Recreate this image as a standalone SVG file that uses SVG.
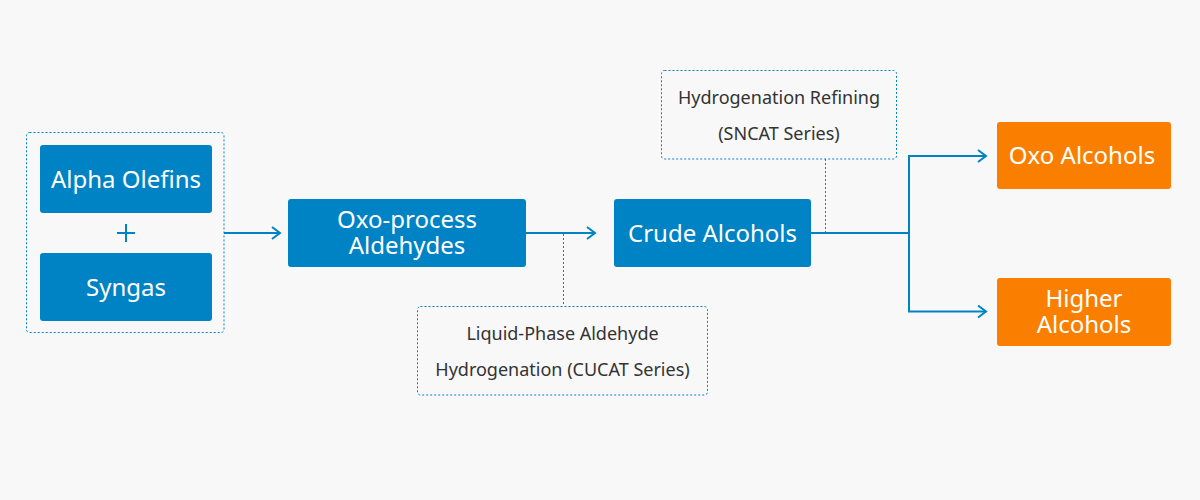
<svg xmlns="http://www.w3.org/2000/svg" width="1200" height="500" viewBox="0 0 1200 500">
<defs>
<marker id="arr" markerWidth="12" markerHeight="14" refX="10" refY="7" orient="auto" markerUnits="userSpaceOnUse">
<path d="M2,1 L10,7 L2,13" fill="none" stroke="#0083c4" stroke-width="2"/>
</marker>
</defs>
<style>
.blue{fill:#0083c4}
.orange{fill:#fa7f00}
.dot{fill:none;stroke:#0083c4;stroke-width:1;stroke-dasharray:2 2}
.wt{fill:#ffffff;font-family:"Noto Sans","Open Sans",sans-serif;font-size:24px;text-anchor:middle}
.gt{fill:#333333;font-family:"Noto Sans","Open Sans",sans-serif;font-size:18px;text-anchor:middle}
.line{fill:none;stroke:#0083c4;stroke-width:2}
.dline{fill:none;stroke:#0083c4;stroke-width:1;stroke-dasharray:2 2}
</style>
<rect width="1200" height="500" fill="#f8f8f8"/>
<g id="connectors">
<path class="line" d="M224,233 H280" marker-end="url(#arr)"/>
<path class="line" d="M526,233 H595" marker-end="url(#arr)"/>
<path class="dline" d="M563.5,234 V306"/>
<path class="dline" d="M825.5,159 V232"/>
<path class="line" d="M811,233 H909"/>
<path class="line" d="M909,155.5 V312"/>
<path class="line" d="M908,156 H986" marker-end="url(#arr)"/>
<path class="line" d="M908,311.5 H986" marker-end="url(#arr)"/>
</g>
<g id="feed-group">
<rect class="dot" x="26.5" y="132.5" width="197.5" height="200" rx="3"/>
</g>
<g id="alpha-olefins">
<rect class="blue" x="40" y="145" width="172" height="68" rx="3"/>
<text class="wt" x="126" y="188">Alpha Olefins</text>
</g>
<g id="plus">
<path d="M117,233 H135 M126,224 V242" stroke="#0083c4" stroke-width="2" fill="none"/>
</g>
<g id="syngas">
<rect class="blue" x="40" y="253" width="172" height="68" rx="3"/>
<text class="wt" x="126" y="296">Syngas</text>
</g>
<g id="oxo-aldehydes">
<rect class="blue" x="288" y="199" width="238" height="68" rx="3"/>
<text class="wt" x="407" y="228">Oxo-process</text>
<text class="wt" x="407" y="254">Aldehydes</text>
</g>
<g id="liquid-phase">
<rect class="dot" x="417.5" y="306.5" width="290" height="88.5" rx="3"/>
<text class="gt" x="562.5" y="340">Liquid-Phase Aldehyde</text>
<text class="gt" x="562.5" y="376">Hydrogenation (CUCAT Series)</text>
</g>
<g id="crude-alcohols">
<rect class="blue" x="614" y="199" width="197" height="68" rx="3"/>
<text class="wt" x="712.5" y="242">Crude Alcohols</text>
</g>
<g id="hydrogenation-refining">
<rect class="dot" x="661.5" y="70.5" width="235" height="88.5" rx="3"/>
<text class="gt" x="779" y="104">Hydrogenation Refining</text>
<text class="gt" x="779" y="140">(SNCAT Series)</text>
</g>
<g id="oxo-alcohols">
<rect class="orange" x="997" y="122" width="174" height="67" rx="3"/>
<text class="wt" x="1082" y="164">Oxo Alcohols</text>
</g>
<g id="higher-alcohols">
<rect class="orange" x="997" y="278" width="174" height="68" rx="3"/>
<text class="wt" x="1084" y="307">Higher</text>
<text class="wt" x="1084" y="333">Alcohols</text>
</g>
</svg>
